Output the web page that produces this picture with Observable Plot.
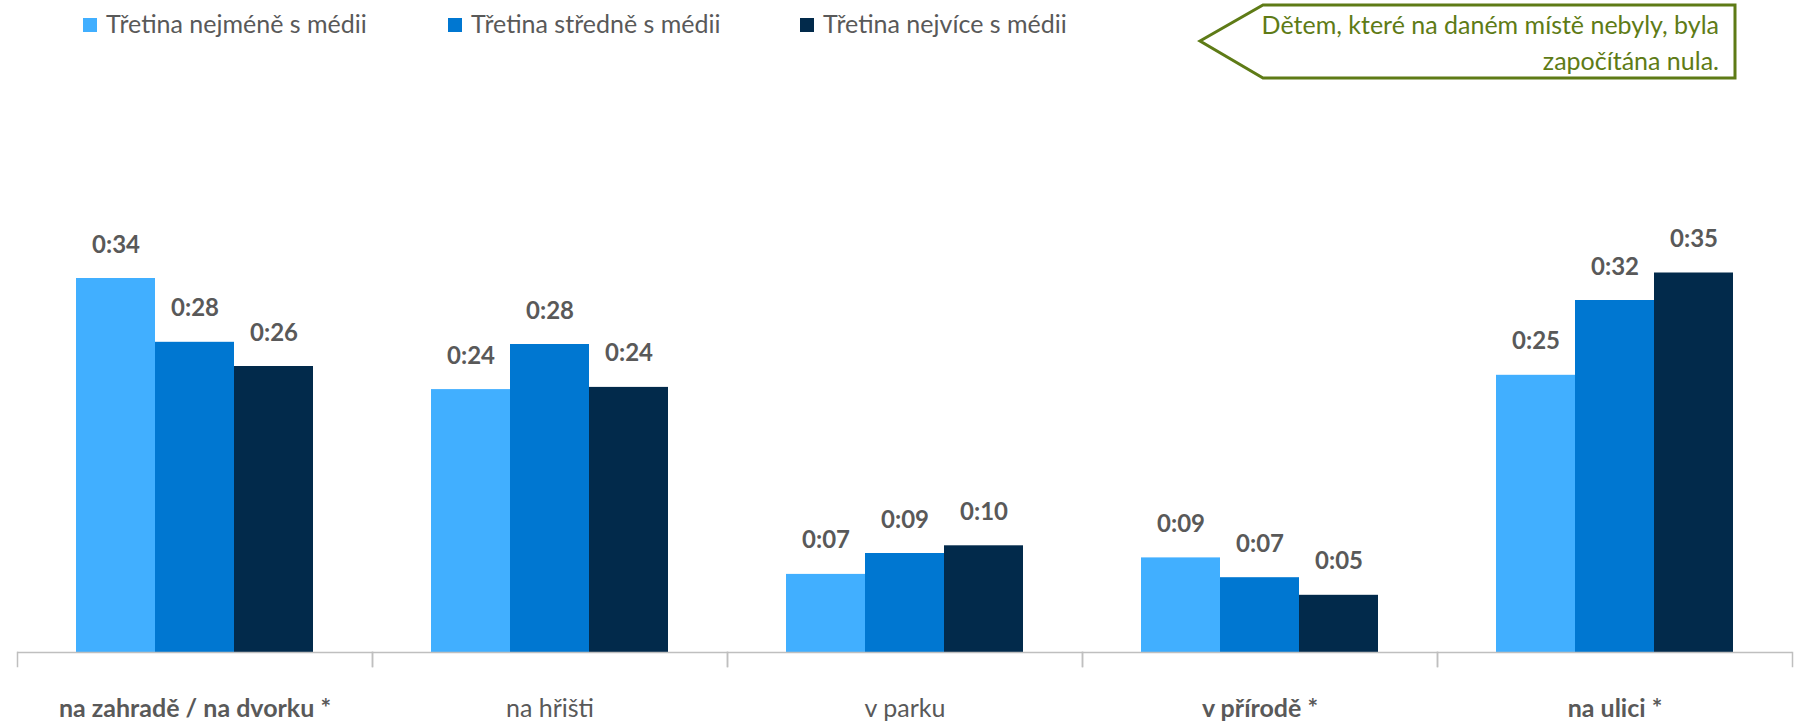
<!DOCTYPE html>
<html>
<head>
<meta charset="utf-8">
<script src="https://cdn.jsdelivr.net/npm/d3@7"></script>
<script src="https://cdn.jsdelivr.net/npm/@observablehq/plot@0.6"></script>
<style>
  html, body { margin: 0; padding: 0; background: #fff; }
  body { width: 1801px; height: 721px; overflow: hidden; font-family: Lato, "Open Sans", sans-serif; }
  #header { position: relative; width: 1801px; height: 90px; }
  .legend-item { position: absolute; top: 0; height: 45px; display: flex; align-items: center; color: #595959; font-size: 25px; white-space: nowrap; }
  .legend-item .sw { width: 14px; height: 14px; margin-right: 9px; margin-top: 4px; }
  #callout { position: absolute; left: 0; top: 0; }
</style>
</head>
<body>
<div id="header"></div>
<div id="chart"></div>
<script>
// ---- data ----
const categories = ["na zahradě / na dvorku *", "na hřišti", "v parku", "v přírodě *", "na ulici *"];
const emphasized = [true, false, false, true, true];
const seriesNames = ["Třetina nejméně s médii", "Třetina středně s médii", "Třetina nejvíce s médii"];
const seriesColors = ["#41AFFF", "#0077D1", "#022A4B"];
// minutes spent (average), per category
const leastMedia  = [34.0, 23.9, 7.1, 8.6, 25.2];
const middleMedia = [28.2, 28.0, 9.0, 6.8, 32.0];
const mostMedia   = [26.0, 24.1, 9.7, 5.2, 34.5];
const noteLines = ["Dětem, které na daném místě nebyly, byla", "započítána nula."];

const seriesValues = [leastMedia, middleMedia, mostMedia];
const rows = [];
categories.forEach((cat, i) => {
  seriesNames.forEach((s, j) => rows.push({cat, series: s, value: seriesValues[j][i]}));
});
const fmt = v => "0:" + String(Math.round(v)).padStart(2, "0");

// ---- legend (HTML above the chart) ----
const header = document.getElementById("header");
const legendLeft = [83, 448, 800];
seriesNames.forEach((s, j) => {
  const item = document.createElement("div");
  item.className = "legend-item";
  item.style.left = legendLeft[j] + "px";
  const sw = document.createElement("span");
  sw.className = "sw";
  sw.style.background = seriesColors[j];
  const label = document.createElement("span");
  label.textContent = s;
  item.append(sw, label);
  header.append(item);
});

// ---- callout note ----
const ns = "http://www.w3.org/2000/svg";
const co = document.createElementNS(ns, "svg");
co.setAttribute("id", "callout");
co.setAttribute("width", 1801);
co.setAttribute("height", 90);
const poly = document.createElementNS(ns, "polygon");
poly.setAttribute("points", "1200,41 1263,5 1735,5 1735,78 1263,78");
poly.setAttribute("fill", "#fff");
poly.setAttribute("stroke", "#5E7B16");
poly.setAttribute("stroke-width", 3);
co.append(poly);
noteLines.forEach((line, k) => {
  const t = document.createElementNS(ns, "text");
  t.setAttribute("x", 1719);
  t.setAttribute("y", 34 + k * 36);
  t.setAttribute("text-anchor", "end");
  t.setAttribute("fill", "#5E7B16");
  t.setAttribute("font-size", 25);
  t.setAttribute("font-family", "Lato, sans-serif");
  t.textContent = line;
  co.append(t);
});
header.append(co);

// ---- chart ----
const gray = "#595959";
const axisGray = "#BFBFBF";
const chart = Plot.plot({
  width: 1801,
  height: 631,
  marginLeft: 15,
  marginRight: 7,
  marginTop: 122,
  marginBottom: 69,
  style: {fontFamily: "Lato, sans-serif", background: "#fff", overflow: "visible"},
  fx: {domain: categories, padding: 0, axis: null},
  x: {domain: seriesNames, paddingInner: 0, paddingOuter: 0.74, axis: null},
  y: {domain: [0, 40], axis: null},
  color: {domain: seriesNames, range: seriesColors},
  marks: [
    Plot.barY(rows, {fx: "cat", x: "series", y: "value", fill: "series"}),
    Plot.text(rows, {fx: "cat", x: "series", y: "value", text: d => fmt(d.value),
      dy: -26, lineAnchor: "bottom", fontWeight: "bold", fontSize: 24, fill: gray}),
    Plot.ruleY([0], {stroke: axisGray, strokeWidth: 1.5}),
    Plot.frame({anchor: "left", stroke: axisGray, strokeWidth: 1.5, insetTop: 440, insetBottom: -14}),
    Plot.frame({anchor: "right", stroke: axisGray, strokeWidth: 1.5, insetTop: 440, insetBottom: -14}),
    Plot.text(categories.filter((c, i) => emphasized[i]), {fx: d => d, text: d => d,
      frameAnchor: "bottom", lineAnchor: "bottom", dy: 64, fontSize: 25, fontWeight: "bold", fill: gray}),
    Plot.text(categories.filter((c, i) => !emphasized[i]), {fx: d => d, text: d => d,
      frameAnchor: "bottom", lineAnchor: "bottom", dy: 64, fontSize: 25, fill: gray})
  ]
});
document.getElementById("chart").append(chart);
</script>
</body>
</html>
